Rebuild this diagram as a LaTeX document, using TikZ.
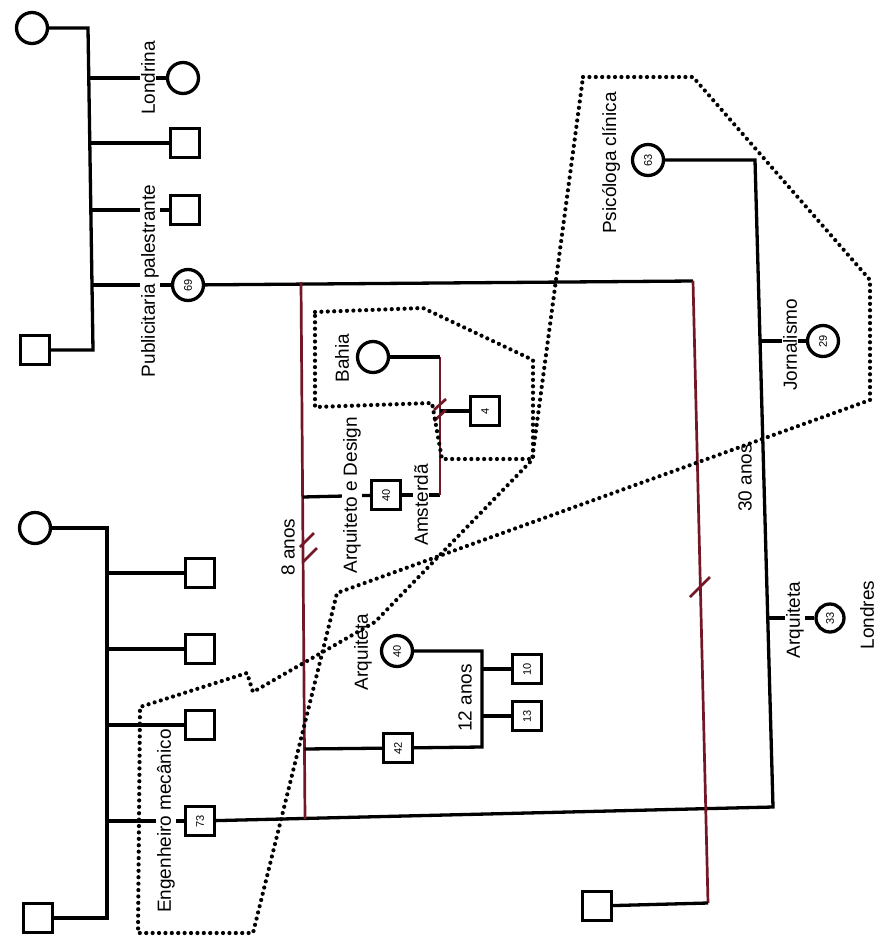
\documentclass[tikz,border=0pt]{standalone}
\usepackage{fontspec}
\setmainfont{Liberation Sans}
\definecolor{relc}{RGB}{115,22,38}
\begin{document}
\begin{tikzpicture}[x=1pt,y=-1pt,
  fam/.style={line width=3.3pt,black},
  rel/.style={line width=2.7pt,relc},
  sq/.style={draw,rectangle,minimum size=29pt,line width=3.3pt,inner sep=0pt,fill=white,rotate=90,font=\fontsize{11}{11}\selectfont},
  cir/.style={draw,circle,minimum size=31pt,line width=3.3pt,inner sep=0pt,fill=white,rotate=90,font=\fontsize{11}{11}\selectfont},
  lab/.style={rotate=90,fill=white,inner sep=1.5pt,font=\fontsize{19}{19}\selectfont},
  bound/.style={line width=4.2pt,line cap=round,dash pattern=on 0pt off 6.4pt,black}]
\fill[white] (0,0) rectangle (877,943);
\useasboundingbox (0,0) rectangle (877,943);

% ---- top family (origin of 69) ----
\node[cir] (f1) at (32,28) {};
\node[sq] (m1) at (35,350) {};
\coordinate (t1) at (88,28);
\coordinate (t2) at (93,350);
\draw[fam] (f1) -- (t1) -- (t2) -- (m1);
\node[cir] (lon) at (183,78) {};
\node[sq] (c2) at (185,143) {};
\node[sq] (c3) at (185,210) {};
\node[cir] (p69) at (188,285) {69};
\coordinate (b1) at (88.8,78);
\coordinate (b2) at (89.8,143);
\coordinate (b3) at (90.8,210);
\coordinate (b4) at (92,285);
\draw[fam] (b1) -- (lon);
\draw[fam] (b2) -- (c2);
\draw[fam] (b3) -- (c3);
\draw[fam] (b4) -- (p69);

% ---- bottom family (origin of 73) ----
\node[cir] (f2) at (35,528) {};
\node[sq] (m2) at (38,918) {};
\coordinate (u1) at (107,528);
\coordinate (u2) at (107,918);
\draw[fam] (f2) -- (u1) -- (u2) -- (m2);
\node[sq] (d1) at (200,573) {};
\node[sq] (d2) at (200,649) {};
\node[sq] (d3) at (200,725) {};
\node[sq] (s73) at (200,821) {73};
\draw[fam] (107,573) -- (d1);
\draw[fam] (107,649) -- (d2);
\draw[fam] (107,725) -- (d3);
\draw[fam] (107,821) -- (s73);

% ---- 73 with 63 ----
\node[cir] (p63) at (648,160) {63};
\coordinate (r1) at (773,807);
\coordinate (r2) at (755,160);
\draw[fam] (s73) -- (r1) -- (r2) -- (p63);
\node[cir] (j29) at (823,341) {29};
\node[cir,minimum size=28pt] (a33) at (830,618) {33};
\coordinate (rj) at (759.7,341);
\coordinate (ra) at (767,618);
\draw[fam] (rj) -- (j29);
\draw[fam] (ra) -- (a33);

% ---- 69 with bottom right man ----
\node[sq] (sbr) at (597,906) {};
\coordinate (q1) at (693,281);
\coordinate (q2) at (708,903);
\draw[fam] (p69) -- (q1);
\draw[rel] (q1) -- (q2);
\draw[fam] (q2) -- (sbr);
\draw[rel] (690,597) -- (710,577);

% ---- 69 with 73 ----
\coordinate (v1) at (301,282);
\coordinate (v2) at (305,819);
\draw[rel] (v1) -- (v2);
\draw[rel] (300,547) -- (314,533);
\draw[rel] (303,562) -- (317,548);

% child 40 (Arquiteto e Design)
\node[sq] (s40) at (386,495) {40};
\coordinate (w1) at (302.6,497);
\draw[fam] (w1) -- (s40);
\node[cir] (bahia) at (373,357) {};
\coordinate (w2) at (440,495);
\coordinate (w3) at (440,357);
\draw[fam] (s40) -- (w2);
\draw[rel] (w2) -- (w3);
\draw[fam] (w3) -- (bahia);
\node[sq] (s4) at (485,411) {4};
\coordinate (w4) at (440,411);
\draw[fam] (w4) -- (s4);
\draw[rel] (434,410) -- (446,399);
\draw[rel] (434,421) -- (446,410);

% child 42
\node[sq] (s42) at (398,748) {42};
\coordinate (w5) at (304.5,749);
\draw[fam] (w5) -- (s42);
\node[cir] (c40) at (397,651) {40};
\coordinate (k1) at (482,747);
\coordinate (k2) at (482,651);
\draw[fam] (s42) -- (k1) -- (k2) -- (c40);
\node[sq] (s10) at (527,669) {10};
\node[sq] (s13) at (527,716) {13};
\draw[fam] (482,669) -- (s10);
\draw[fam] (482,716) -- (s13);

% ---- labels ----
\node[lab] (lLon) at (148,78) {Londrina};
\node[lab] (lPub) at (150,281) {Publicitaria palestrante};
\node[lab] (lEng) at (166,821) {Engenheiro mecânico};
\node[lab] (l8) at (288,547) {8 anos};
\node[lab] (lAD) at (352,495) {Arquiteto e Design};
\node[lab] (lBa) at (342,358) {Bahia};
\node[lab] (lAm) at (421,505) {Amsterdã};
\node[lab] (lAq) at (363,652) {Arquiteta};
\node[lab] (l12) at (465,698) {12 anos};
\node[lab] (lPs) at (611,163) {Psicóloga clínica};
\node[lab] (lJo) at (790,345) {Jornalismo};
\node[lab] (l30) at (745,478) {30 anos};
\node[lab] (lAr) at (795,620) {Arquiteta};
\node[lab] (lLo) at (867,615) {Londres};

% ---- dotted boundaries ----
\draw[bound] (583,77) -- (693,77) -- (870,280) -- (870,400) -- (337,593) -- (253,933) -- (138,933) -- (140,707) -- (247,673) -- (253,692) -- (375,622) -- (532,460) -- cycle;
\draw[bound] (315,312) -- (423,308) -- (533,360) -- (533,459) -- (442,459) -- (432,403) -- (315,407) -- cycle;
\end{tikzpicture}
\end{document}
